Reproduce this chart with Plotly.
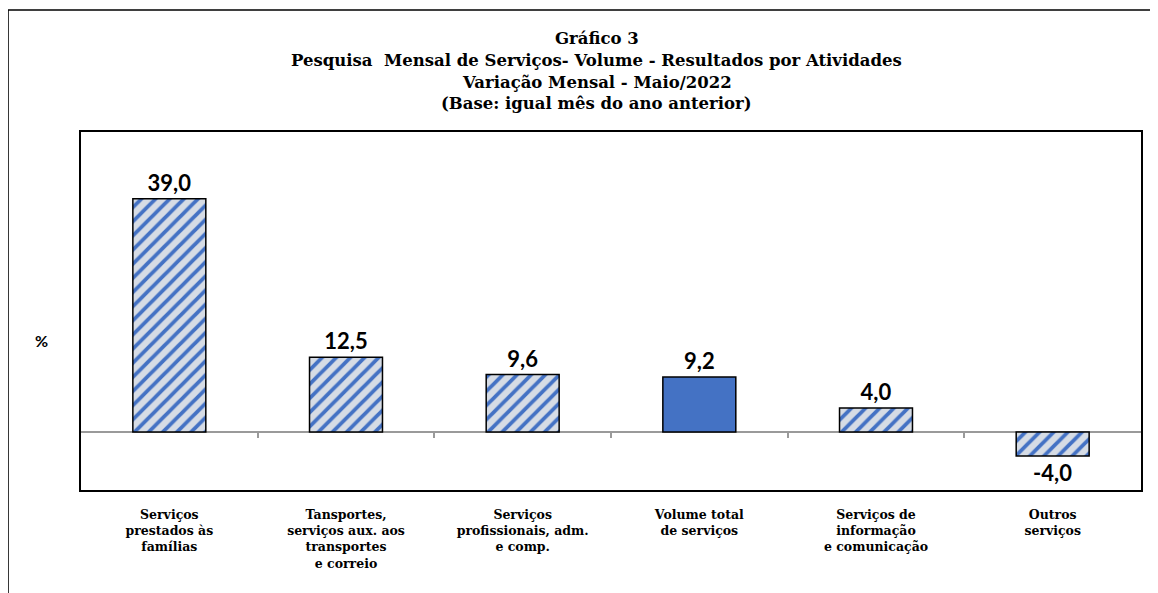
import plotly.graph_objects as go

categories = [
    "Serviços<br>prestados às<br>famílias",
    "Tansportes,<br>serviços aux. aos<br>transportes<br>e correio",
    "Serviços<br>profissionais, adm.<br>e comp.",
    "Volume total<br>de serviços",
    "Serviços de<br>informação<br>e comunicação",
    "Outros<br>serviços",
]
values = [39.0, 12.5, 9.6, 9.2, 4.0, -4.0]
is_total = [False, False, False, True, False, False]
title_lines = [
    "Gráfico 3",
    "Pesquisa  Mensal de Serviços- Volume - Resultados por Atividades",
    "Variação Mensal - Maio/2022",
    "(Base: igual mês do ano anterior)",
]

BLUE = "#4472C4"
LIGHT = "#D6DCE5"

labels = [f"{v:.1f}".replace(".", ",") for v in values]
shapes_ = ["" if t else "/" for t in is_total]
n = len(values)

OFF = 8  # page body margin
W, H = 1158 - OFF, 593 - OFF
L = 81 - OFF
R = 1158 - 1141.5
T = 132 - OFF
B = H - (490 - OFF)
ph = H - T - B
pw = W - L - R


def px_x(xp):
    return (xp - OFF - L) / pw


def px_y(yp):
    return (H - B - (yp - OFF)) / ph


fig = go.Figure()
# base fill
fig.add_trace(go.Bar(
    x=list(range(n)), y=values,
    marker=dict(color=[BLUE if t else LIGHT for t in is_total], line=dict(width=0)),
    width=0.413, hoverinfo="skip",
))
# stripes + outline + labels
fig.add_trace(go.Bar(
    x=list(range(n)), y=values,
    text=labels,
    textposition="outside",
    textfont=dict(family="Lato", size=22, color="black", weight="bold"),
    cliponaxis=False,
    marker=dict(
        color=BLUE,
        line=dict(color="black", width=1.5),
        pattern=dict(shape=shapes_, bgcolor="rgba(0,0,0,0)", size=10, solidity=0.38,
                     fillmode="replace"),
    ),
    width=0.413,
    hoverinfo="skip",
))
# invisible trace for the boundary tick axis at zero
fig.add_trace(go.Scatter(x=[0], y=[0], xaxis="x2", yaxis="y", mode="markers",
                         marker=dict(opacity=0), showlegend=False, hoverinfo="skip"))

ymin, ymax = -9.7, 50.15
zero_pos = (0 - ymin) / (ymax - ymin)

fig.update_layout(
    width=W, height=H,
    margin=dict(l=L, r=R, t=T, b=B),
    paper_bgcolor="white", plot_bgcolor="white",
    showlegend=False,
    barmode="overlay",
    xaxis=dict(
        range=[-0.5, n - 0.5],
        tickvals=list(range(n)),
        ticktext=categories,
        tickfont=dict(family="DejaVu Serif", size=12.5, color="black", weight="bold"),
        showline=True, linecolor="black", linewidth=1.5, mirror=True,
        showgrid=False, ticks="", zeroline=False,
        ticklabelstandoff=12,
    ),
    xaxis2=dict(
        range=[-0.5, n - 0.5],
        overlaying="x", anchor="free", position=zero_pos,
        tickvals=[i + 0.5 for i in range(n - 1)],
        showticklabels=False, ticks="outside", ticklen=5, tickwidth=1.5,
        tickcolor="#9A9A9A", showline=False, showgrid=False, zeroline=False,
    ),
    yaxis=dict(
        range=[ymin, ymax],
        showline=True, linecolor="black", linewidth=1.5, mirror=True,
        showgrid=False, showticklabels=False, ticks="",
        zeroline=True, zerolinecolor="#9A9A9A", zerolinewidth=2,
    ),
)

line_y = [39, 60, 82, 104]
for txt, yp in zip(title_lines, line_y):
    fig.add_annotation(
        text=txt, xref="paper", yref="paper",
        x=px_x(597), y=px_y(yp),
        xanchor="center", yanchor="middle", showarrow=False,
        font=dict(family="DejaVu Serif", size=16.5, color="black", weight="bold"),
    )

fig.add_annotation(
    text="%", xref="paper", yref="paper",
    x=px_x(41), y=px_y(340),
    xanchor="center", yanchor="middle", showarrow=False,
    font=dict(family="Lato", size=16, color="black", weight="bold"),
)

# outer chart frame
fig.add_shape(
    type="rect", xref="paper", yref="paper",
    x0=px_x(8), x1=px_x(1175),
    y0=px_y(640), y1=px_y(10),
    line=dict(color="black", width=1.5), fillcolor="rgba(0,0,0,0)", layer="below",
)

fig.write_html("out.html")
